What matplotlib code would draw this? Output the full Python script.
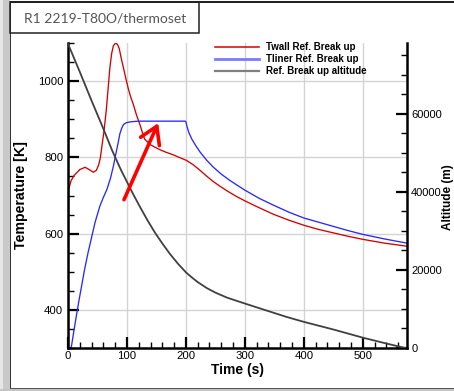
import numpy as np
import matplotlib
matplotlib.use('Agg')
import matplotlib.pyplot as plt
from matplotlib.patches import Rectangle
from matplotlib.lines import Line2D
from matplotlib.ticker import MultipleLocator

plt.rcParams['font.family'] = ['Liberation Sans', 'DejaVu Sans']

# ---- data ----
t_wall = [0, 1, 5, 10, 20, 29, 36, 43, 48, 52, 55, 58, 61, 65, 68, 71, 74, 77, 81, 84,
          87, 90, 94, 98, 102, 106, 111, 116, 122, 126, 130, 139, 147, 156, 167, 178,
          190, 201, 212, 224, 235, 246, 258, 270, 285, 300, 320, 348, 375, 400, 425,
          450, 475, 500, 537, 575]
T_wall = [300, 715, 738, 752, 768, 774, 768, 761, 766, 780, 800, 835, 868, 925, 980,
          1035, 1072, 1093, 1100, 1096, 1085, 1062, 1035, 1008, 982, 960, 938, 912, 886,
          866, 848, 834, 827, 820, 813, 807, 799, 792, 781, 766, 751, 737, 724, 712, 698,
          686, 671, 651, 635, 622, 611, 602, 593, 585, 575, 567]

t_liner = [0, 5, 6, 10, 15, 19, 23, 28, 34, 40, 46, 54, 60, 66, 72, 77, 81, 85, 88, 91,
           94, 99, 105, 115, 122, 199, 200, 202, 205, 210, 217, 224, 235, 246, 260, 275,
           300, 325, 348, 375, 400, 425, 450, 475, 500, 537, 575]
T_liner = [300, 300, 306, 345, 392, 428, 462, 505, 550, 590, 630, 672, 695, 716, 745, 777,
           808, 838, 862, 876, 886, 891, 893, 894.5, 895, 895, 893, 880, 865, 848, 830,
           814, 793, 775, 756, 739, 714, 692, 675, 656, 641, 630, 619, 608, 598, 586, 575]

t_alt = [0, 20, 40, 60, 75, 90, 100, 110, 122, 135, 147, 160, 173, 186, 200, 210, 220,
         235, 250, 270, 300, 337, 370, 400, 450, 500, 540, 572]
h_alt = [78000, 70800, 63400, 56200, 50600, 45600, 42600, 39600, 36200, 32700, 29700,
         26800, 24100, 21700, 19400, 18100, 16900, 15400, 14200, 12900, 11400, 9600,
         8000, 6700, 4750, 2650, 1150, 0]

arrow_tail = (95, 689)
arrow_tip = (153, 890)

labels = ['Twall Ref. Break up', 'Tliner Ref. Break up', 'Ref. Break up altitude']

W, H = 454, 391
fig = plt.figure(figsize=(W / 100, H / 100), dpi=100)


def px(x0, y0, x1, y1):
    # pixel box -> figure fraction (left, bottom, width, height)
    return (x0 / W, 1 - y1 / H, (x1 - x0) / W, (y1 - y0) / H)


def rect(x0, y0, x1, y1, **kw):
    l, b, w, h = px(x0, y0, x1, y1)
    fig.add_artist(Rectangle((l, b), w, h, transform=fig.transFigure, **kw))


# window frame
rect(0, 0, 3, H, facecolor='#e6e6e6', edgecolor='none')
rect(3, 0, 9.5, H, facecolor='#c9c9c9', edgecolor='none')
rect(0, 389, W, H, facecolor='#c4c4c4', edgecolor='none')
rect(9.5, 1.5, 10.7, 389, facecolor='#333333', edgecolor='none')
rect(9.5, 1.5, W, 2.8, facecolor='#222222', edgecolor='none')
rect(9.5, 387.8, W, 389.2, facecolor='#555555', edgecolor='none')
# title box
rect(10, 2, 199, 33, facecolor='none', edgecolor='#222222', linewidth=1.1)
fig.text(24 / W, 1 - 18.5 / H, 'R1 2219-T80O/thermoset', family=['Lato', 'DejaVu Sans'],
         fontsize=10, color='#555555', ha='left', va='center')

ax = fig.add_axes(px(68, 43, 407, 348))
ax2 = ax.twinx()

ax.plot(t_wall, T_wall, color='#d40000', lw=0.95)
ax.plot(t_liner, T_liner, color='#2828ff', lw=0.95)
ax2.plot(t_alt, h_alt, color='#404040', lw=1.3)

ax.set_xlim(0, 575)
ax.set_ylim(300, 1100)
ax2.set_ylim(0, 78200)

ax.xaxis.set_major_locator(MultipleLocator(100))
ax.xaxis.set_minor_locator(MultipleLocator(20))
ax.yaxis.set_major_locator(MultipleLocator(200))
ax.yaxis.set_minor_locator(MultipleLocator(50))
ax2.yaxis.set_major_locator(MultipleLocator(20000))
ax2.yaxis.set_minor_locator(MultipleLocator(5000))

ax.grid(True, which='major', color='#d4d4d4', lw=1.0)
ax.set_axisbelow(True)

for a in (ax, ax2):
    a.spines['top'].set_visible(False)
    for s in a.spines.values():
        s.set_linewidth(1.8)
ax.spines['right'].set_visible(False)
ax2.spines['left'].set_visible(False)
ax2.spines['bottom'].set_visible(False)

ax.tick_params(axis='both', which='major', direction='in', length=8, width=1.6,
               labelsize=8.2, pad=3.5)
ax.tick_params(axis='both', which='minor', direction='in', length=4.5, width=1.0)
ax.tick_params(axis='x', pad=2.5)
ax.tick_params(top=False, right=False, which='both')
ax2.tick_params(axis='y', which='major', direction='in', length=8, width=1.6,
                labelsize=8, pad=3)
ax2.tick_params(axis='y', which='minor', direction='in', length=4.5, width=1.0)

ax.set_xlabel('Time (s)', fontsize=10, fontweight='bold', labelpad=1)
ax.set_ylabel('Temperature [K]', fontsize=10.2, fontweight='bold', labelpad=7)
fig.text(454 / W, 1 - 197 / H, 'Altitude (m)', fontsize=8.5, fontweight='bold',
         rotation=90, ha='right', va='center')

ax2.annotate('', xy=arrow_tip, xytext=arrow_tail, xycoords=ax.transData,
             textcoords=ax.transData,
             arrowprops=dict(arrowstyle='->,head_length=0.6,head_width=0.37',
                             color='#ff0000', lw=2.6, mutation_scale=20,
                             shrinkA=0, shrinkB=0))

handles = [Line2D([], [], color='#d40000', lw=1.1),
           Line2D([], [], color='#7a7aff', lw=2.0),
           Line2D([], [], color='#808080', lw=1.6)]
fig.legend(handles, labels, loc='upper left', bbox_to_anchor=(215 / W, 1 - 42.5 / H),
           frameon=False, prop=dict(size=7, weight='bold'), handlelength=4.5,
           handletextpad=0.75, labelspacing=0.2, borderpad=0, borderaxespad=0)

fig.savefig('out.png', dpi=100)
